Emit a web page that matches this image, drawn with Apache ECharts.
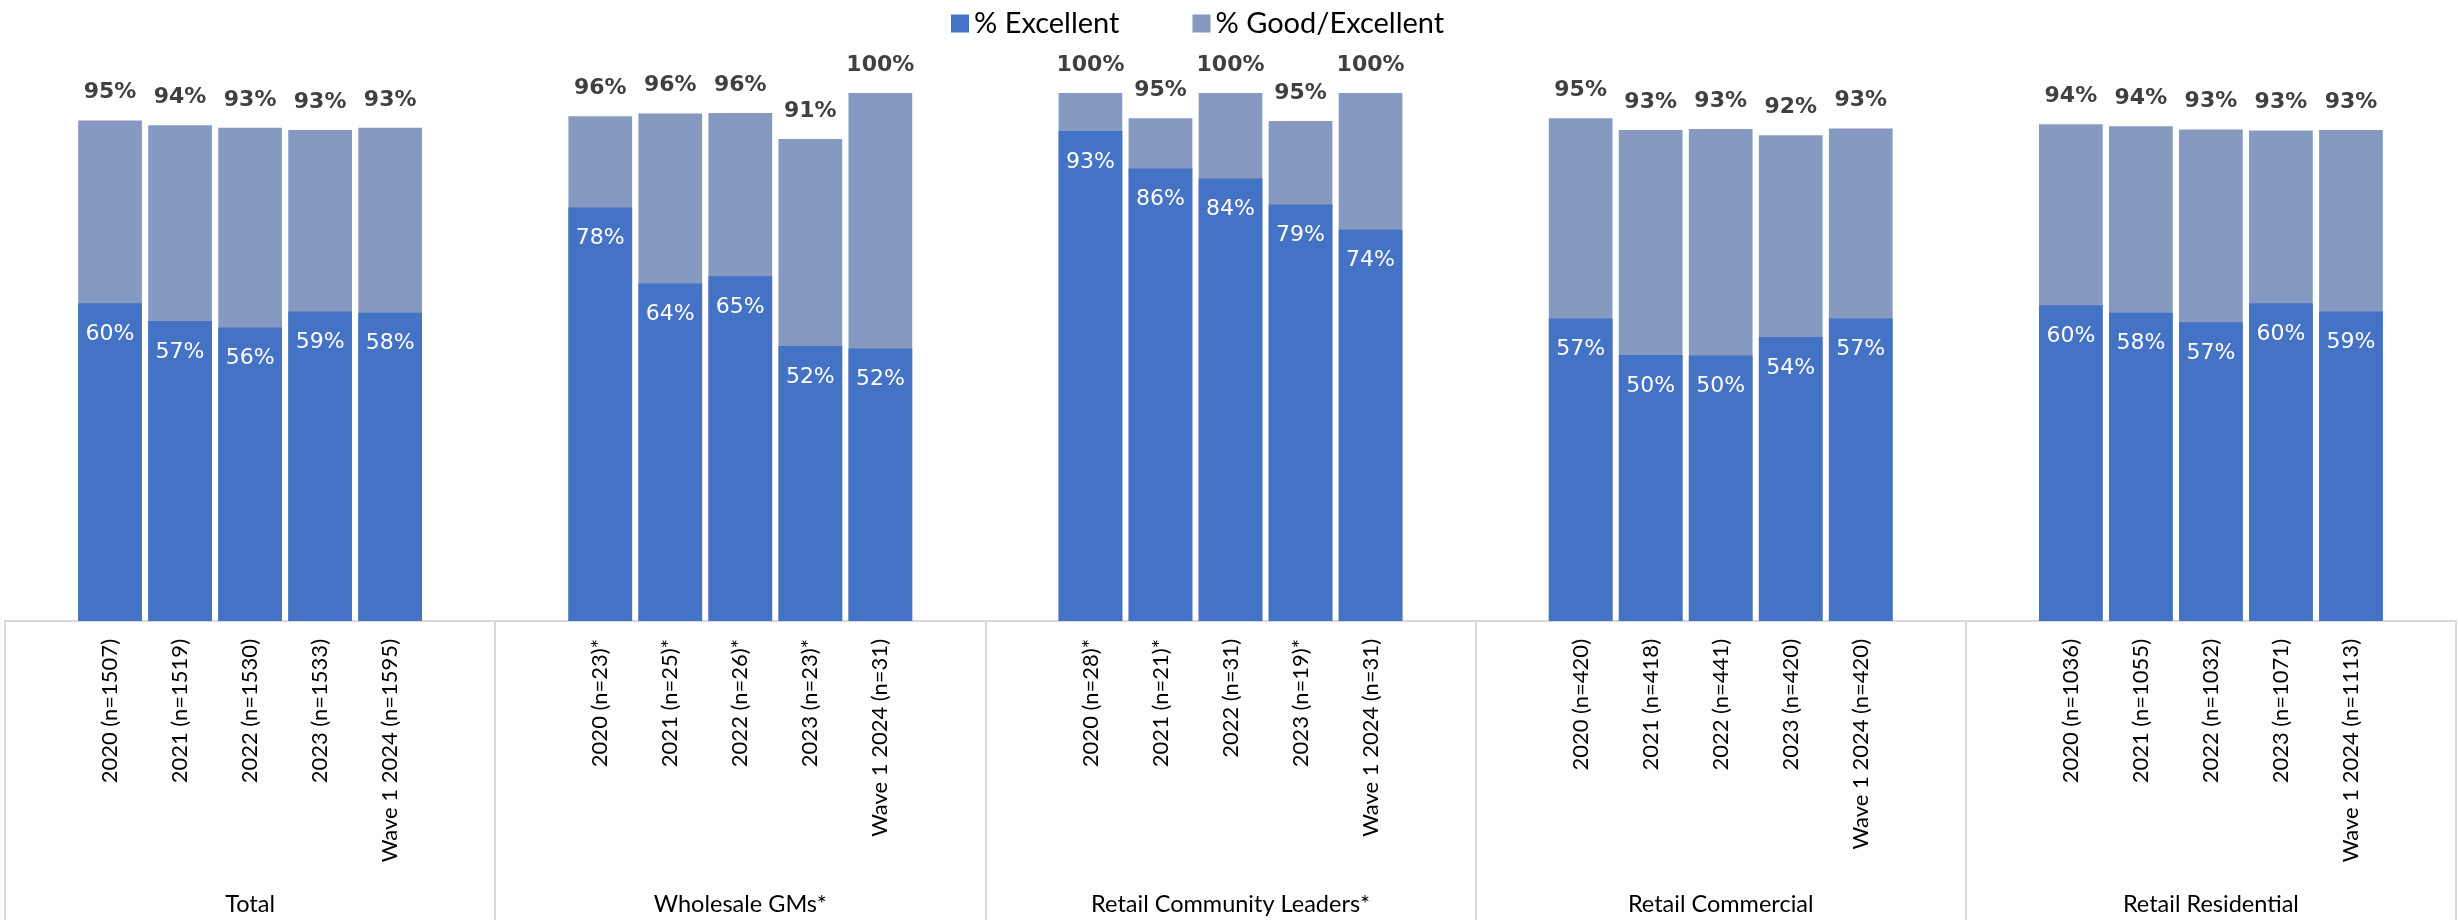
<!DOCTYPE html>
<html>
<head>
<meta charset="utf-8">
<script src="https://cdn.jsdelivr.net/npm/echarts@6/dist/echarts.min.js"></script>
<style>html,body{margin:0;padding:0;background:#fff}#c{width:2458px;height:920px}</style>
</head>
<body>
<div id="c"></div>
<script>
const groups = ['Total', 'Wholesale GMs*', 'Retail Community Leaders*', 'Retail Commercial', 'Retail Residential'];
const periods = [
  ['2020 (n=1507)', '2021 (n=1519)', '2022 (n=1530)', '2023 (n=1533)', 'Wave 1 2024 (n=1595)'],
  ['2020 (n=23)*', '2021 (n=25)*', '2022 (n=26)*', '2023 (n=23)*', 'Wave 1 2024 (n=31)'],
  ['2020 (n=28)*', '2021 (n=21)*', '2022 (n=31)', '2023 (n=19)*', 'Wave 1 2024 (n=31)'],
  ['2020 (n=420)', '2021 (n=418)', '2022 (n=441)', '2023 (n=420)', 'Wave 1 2024 (n=420)'],
  ['2020 (n=1036)', '2021 (n=1055)', '2022 (n=1032)', '2023 (n=1071)', 'Wave 1 2024 (n=1113)']
];
const excellent = [
  [60.2, 56.8, 55.6, 58.6, 58.4],
  [78.3, 63.9, 65.3, 52.1, 51.6],
  [92.8, 85.7, 83.8, 78.9, 74.1],
  [57.3, 50.4, 50.3, 53.8, 57.3],
  [59.8, 58.4, 56.6, 60.2, 58.6]
];
const goodExcellent = [
  [94.8, 93.9, 93.4, 93.0, 93.4],
  [95.6, 96.1, 96.2, 91.3, 100],
  [100, 95.2, 100, 94.7, 100],
  [95.2, 93.0, 93.2, 92.0, 93.3],
  [94.1, 93.7, 93.1, 92.9, 93.0]
];

// Build padded category list: one blank slot on each side of every group
const cats = [], exData = [], geData = [];
groups.forEach((g, gi) => {
  cats.push('');
  exData.push(null); geData.push(null);
  periods[gi].forEach((p, i) => {
    cats.push(p);
    exData.push(excellent[gi][i]);
    geData.push(goodExcellent[gi][i]);
  });
  cats.push('');
  exData.push(null); geData.push(null);
});

const chart = echarts.init(document.getElementById('c'));
chart.setOption({
  animation: false,
  legend: {
    top: 4,
    left: 946,
    itemWidth: 18,
    itemHeight: 18,
    itemGap: 73,
    icon: 'rect',
    data: ['% Excellent', '% Good/Excellent'],
    textStyle: { fontFamily: 'Lato', fontSize: 29, color: '#000' }
  },
  grid: { left: 5, right: 2, top: 93, bottom: 299, containLabel: false },
  xAxis: [
    {
      type: 'category',
      data: cats,
      position: 'bottom',
      boundaryGap: true,
      axisLine: { show: true, lineStyle: { color: '#d9d9d9', width: 2 } },
      axisTick: { show: false },
      axisLabel: {
        interval: 0,
        rotate: 90,
        margin: 18,
        fontFamily: 'Lato',
        fontSize: 22,
        color: '#000'
      }
    },
    {
      type: 'category',
      data: groups,
      position: 'bottom',
      boundaryGap: true,
      axisLine: { show: false },
      axisTick: { show: true, length: 300, lineStyle: { color: '#d9d9d9', width: 2 } },
      axisLabel: {
        interval: 0,
        margin: 271,
        fontFamily: 'Lato',
        fontSize: 23.5,
        color: '#000'
      }
    }
  ],
  yAxis: {
    type: 'value',
    min: 0,
    max: 100,
    show: false,
    splitLine: { show: false }
  },
  series: [
    {
      name: '% Good/Excellent',
      type: 'bar',
      xAxisIndex: 0,
      data: geData,
      barWidth: '91%',
      barGap: '-100%',
      itemStyle: { color: '#8599C1' },
      label: {
        show: true,
        position: 'top',
        distance: 17,
        formatter: p => Math.round(p.value) + '%',
        fontFamily: 'DejaVu Sans',
        fontWeight: 'bold',
        fontSize: 22,
        color: '#404040'
      }
    },
    {
      name: '% Excellent',
      type: 'bar',
      xAxisIndex: 0,
      data: exData,
      barWidth: '91%',
      barGap: '-100%',
      itemStyle: { color: '#4472C4' },
      label: {
        show: true,
        position: 'insideTop',
        distance: 20,
        formatter: p => Math.round(p.value) + '%',
        fontFamily: 'DejaVu Sans',
        fontSize: 22,
        color: '#fff'
      }
    }
  ]
});
</script>
</body>
</html>
